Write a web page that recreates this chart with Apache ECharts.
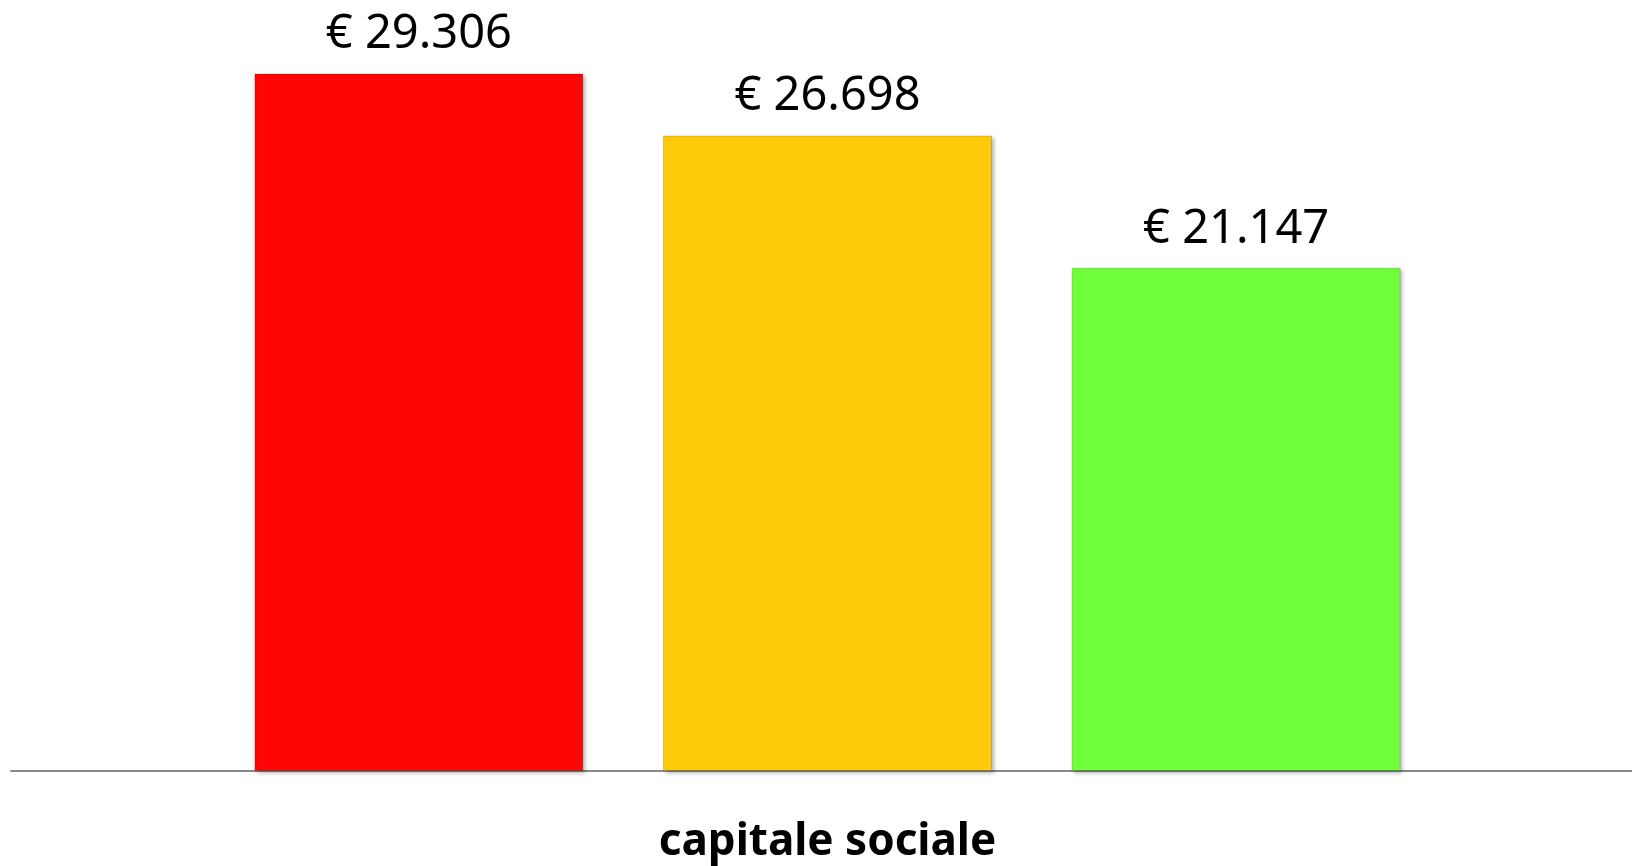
<!DOCTYPE html>
<html>
<head>
<meta charset="utf-8">
<style>html,body{margin:0;padding:0;background:#fff;}#c{width:1632px;height:866px;}</style>
<script src="https://cdn.jsdelivr.net/npm/echarts@6/dist/echarts.min.js"></script>
</head>
<body>
<div id="c"></div>
<script>
const categories = ['capitale sociale'];
const seriesNames = ['A', 'B', 'C'];
const seriesValues = [29306, 26698, 21147];
const seriesColors = ['#FE0606', '#FECB0A', '#6EFE3A'];
const yTicks = [0, 30000];

function fmt(v) {
  return '€ ' + String(v).replace(/\B(?=(\d{3})+(?!\d))/g, '.');
}

const chart = echarts.init(document.getElementById('c'));
chart.setOption({
  animation: false,
  grid: [
    { left: 23, right: 0, top: 57, bottom: 95, containLabel: false },
    { left: 11, right: 0, top: 57, bottom: 95, containLabel: false }
  ],
  xAxis: [{
    type: 'category',
    gridIndex: 0,
    data: categories,
    axisLine: { show: false },
    axisTick: { show: false },
    axisLabel: { margin: 49, fontFamily: 'Noto Sans', fontWeight: 'bold', fontSize: 44, color: '#000' }
  }, {
    type: 'category',
    gridIndex: 1,
    data: categories,
    axisLine: { show: true, lineStyle: { color: '#888888', width: 2 } },
    axisTick: { show: false },
    axisLabel: { show: false }
  }],
  yAxis: [{
    type: 'value', gridIndex: 0, min: yTicks[0], max: yTicks[1],
    show: false, splitLine: { show: false }
  }, {
    type: 'value', gridIndex: 1, min: yTicks[0], max: yTicks[1],
    show: false, splitLine: { show: false }
  }],
  series: seriesValues.map((v, i) => ({
    name: seriesNames[i],
    type: 'bar',
    xAxisIndex: 0,
    yAxisIndex: 0,
    data: [v],
    barWidth: 329,
    barGap: '24.2%',
    z: 3,
    itemStyle: {
      color: seriesColors[i],
      borderColor: 'rgba(0,0,0,0.15)',
      borderWidth: 1,
      shadowColor: 'rgba(0,0,0,0.3)',
      shadowBlur: 4,
      shadowOffsetX: 2,
      shadowOffsetY: 2
    },
    label: {
      show: true, position: 'top', distance: 15,
      formatter: p => fmt(p.value),
      fontFamily: 'Noto Sans', fontSize: 47, color: '#000'
    }
  }))
});
</script>
</body>
</html>
